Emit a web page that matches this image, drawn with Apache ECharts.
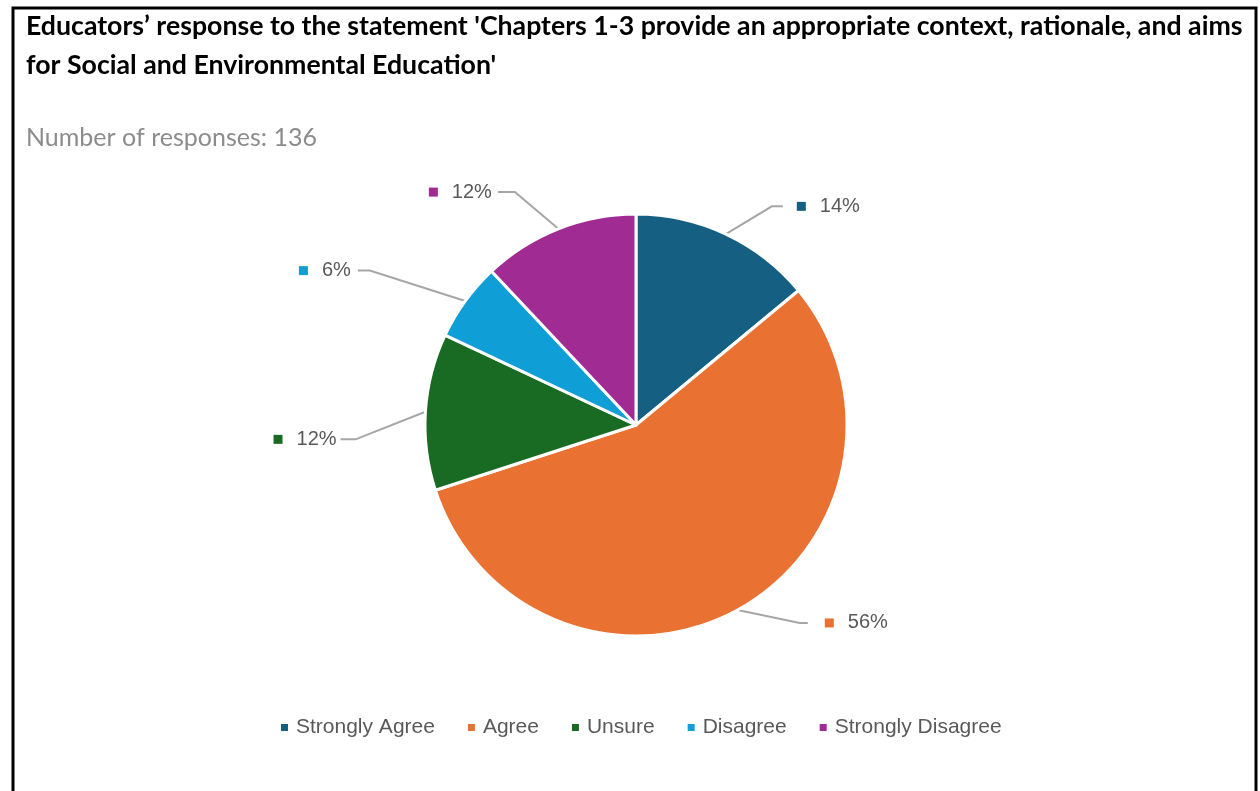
<!DOCTYPE html>
<html>
<head>
<meta charset="utf-8">
<script src="https://cdn.jsdelivr.net/npm/echarts@6/dist/echarts.min.js"></script>
<style>
  html, body { margin: 0; padding: 0; background: #ffffff; }
  #chart { width: 1260px; height: 791px; }
</style>
</head>
<body>
<div id="chart"></div>
<script>
// Survey answers (share of responses, %)
const categories = ['Strongly Agree', 'Agree', 'Unsure', 'Disagree', 'Strongly Disagree'];
const shares = [14, 56, 12, 6, 12];
const colors = ['#156082', '#E97132', '#196B24', '#0F9ED5', '#A02B93'];
const responseCount = 136;

// Per-slice label placement: [outward length, horizontal tail, gap to label, vertical nudge]
// The nudge moves each label toward its slice; the leader line is then re-routed to it.
const leader = [
  [108, 11, 14, 70],
  [129, 8, 17, -100],
  [70, 15, 4, 32],
  [118, 12, 7, 39],
  [118, 17, 6, 73]
];

const chart = echarts.init(document.getElementById('chart'));

const total = shares.reduce((a, b) => a + b, 0);
let running = 0;
const data = categories.map((name, i) => {
  // which side of the pie the slice's label falls on
  const mid = (running + shares[i] / 2) / total;
  running += shares[i];
  const onRight = mid < 0.5;
  const body = '{sq| }{v|' + shares[i] + '%}';
  return {
    name: name,
    value: shares[i],
    itemStyle: { color: colors[i] },
    labelLine: { length: leader[i][0], length2: leader[i][1] },
    label: {
      distanceToLabelLine: 0,
      // blank spacer keeps the leader line clear of the label
      formatter: onRight ? '{g| }' + body : body + '{g| }',
      rich: {
        g: { width: leader[i][2], height: 1 },
        sq: { width: 9, height: 9, backgroundColor: colors[i] },
        v: { fontFamily: 'Liberation Sans, Arial, sans-serif', fontSize: 20, color: '#595959', padding: [0, 0, 0, 14] }
      }
    }
  };
});

chart.setOption({
  animation: false,
  backgroundColor: '#ffffff',
  title: [
    {
      text: 'Educators\u2019 response to the statement \'Chapters 1-3 provide an appropriate context, rationale, and aims\nfor Social and Environmental Education\'',
      left: 21,
      top: 2,
      textStyle: { fontFamily: 'Lato', fontWeight: 'bold', fontSize: 26.7, color: '#000000', lineHeight: 39 }
    },
    {
      text: 'Number of responses: ' + responseCount,
      left: 21,
      top: 120,
      textStyle: { fontFamily: 'Lato', fontWeight: 'normal', fontSize: 25, color: '#8c8c8c' }
    }
  ],
  legend: {
    data: categories,
    bottom: 48,
    left: 274,
    icon: 'rect',
    itemWidth: 9,
    itemHeight: 9,
    itemGap: 31,
    textStyle: { fontFamily: 'Liberation Sans, Arial, sans-serif', fontSize: 21, color: '#595959', padding: [0, 0, 0, 2] }
  },
  graphic: [{
    type: 'rect',
    shape: { x: 13, y: 8, width: 1243, height: 800 },
    style: { fill: 'none', stroke: '#000000', lineWidth: 3 },
    silent: true
  }],
  series: [{
    type: 'pie',
    center: [636, 425],
    radius: 211,
    startAngle: 90,
    clockwise: true,
    avoidLabelOverlap: false,
    itemStyle: { borderColor: '#ffffff', borderWidth: 3 },
    label: {
      show: true,
      position: 'outside'
    },
    labelLine: {
      show: true,
      minTurnAngle: 10,
      lineStyle: { color: '#a6a6a6', width: 2 }
    },
    labelLayout: (p) => ({ y: p.labelRect.y + p.labelRect.height / 2 + leader[p.dataIndex][3] }),
    data: data
  }]
});
</script>
</body>
</html>
